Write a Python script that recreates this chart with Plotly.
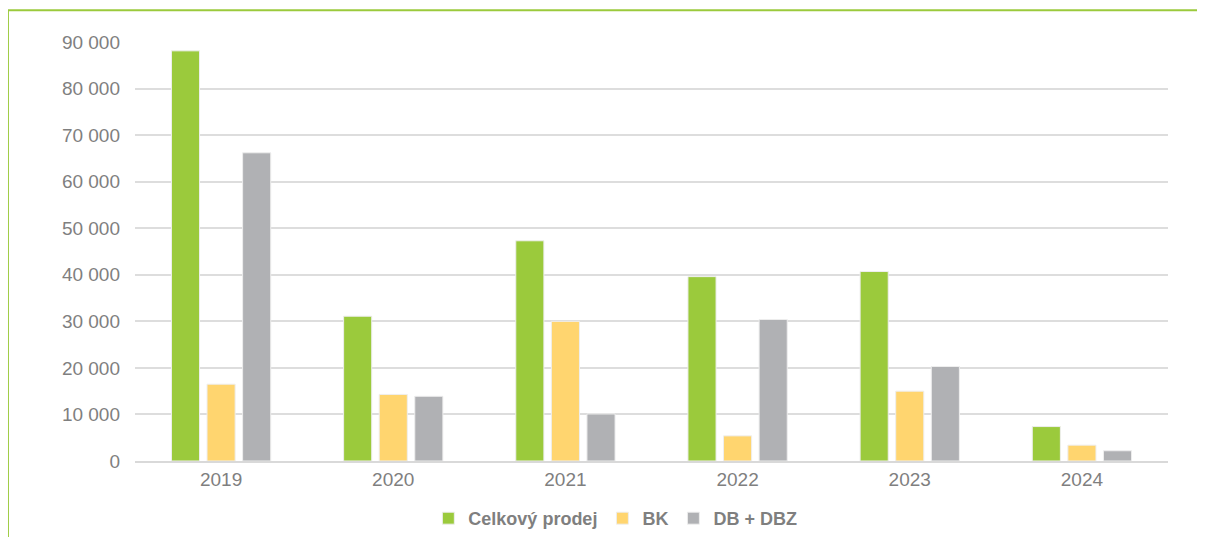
import plotly.graph_objects as go

years = ["2019", "2020", "2021", "2022", "2023", "2024"]
celkovy = [88100, 31100, 47300, 39600, 40700, 7400]
bk = [16500, 14300, 30000, 5400, 15000, 3400]
db_dbz = [66200, 13900, 10100, 30400, 20300, 2200]

series = [
    ("Celkový prodej", celkovy, "#9BCA3C"),
    ("BK", bk, "#FFD56F"),
    ("DB + DBZ", db_dbz, "#B0B1B4"),
]

fig = go.Figure()
for name, vals, color in series:
    fig.add_trace(go.Bar(
        x=years, y=vals, name=name,
        marker=dict(color=color, line=dict(color="#EEEEEE", width=1)),
    ))

# page has an 8px body margin, so the figure is a bit smaller than the window
fig.update_layout(
    width=1197, height=529,
    margin=dict(l=127, r=37, t=34, b=76),
    plot_bgcolor="white", paper_bgcolor="white",
    barmode="group", bargap=0.38, bargroupgap=0.21,
    separators=", ",
    font=dict(family="Liberation Sans, Arial, sans-serif", color="#7F7F7F", size=19),
    legend=dict(
        orientation="h", x=0.465, xanchor="center",
        yref="container", y=0.035, yanchor="middle",
        font=dict(size=18, color="#7F7F7F", family="Liberation Sans, Arial, sans-serif", weight="bold"),
        itemwidth=30, traceorder="normal",
    ),
    showlegend=True,
    shapes=[
        dict(type="line", xref="paper", yref="paper", x0=-0.123, x1=1.05, y0=1.076, y1=1.076,
             line=dict(color="#9BCA3C", width=2)),
        dict(type="line", xref="paper", yref="paper", x0=-0.123, x1=-0.123, y0=1.076, y1=-0.2,
             line=dict(color="#9BCA3C", width=2)),
    ],
)
fig.update_xaxes(
    automargin=False,
    showgrid=False, showline=True, linecolor="#D9D9D9", linewidth=1.5,
    ticks="", tickfont=dict(size=19, color="#7F7F7F"),
)
fig.update_yaxes(
    automargin=False,
    range=[0, 90000], dtick=10000, tickformat=",d",
    showgrid=True, gridcolor="#DDDDDD", gridwidth=1.5,
    zeroline=False, showline=False, ticks="",
    ticklabelstandoff=14, tickfont=dict(size=19, color="#7F7F7F"),
)

fig.write_html("out.html")
